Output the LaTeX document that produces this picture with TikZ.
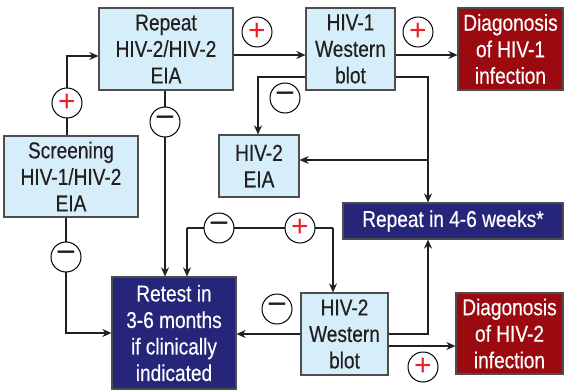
\documentclass[tikz,border=0pt]{standalone}
\usepackage{fontspec}
\setmainfont{Liberation Sans}[FakeStretch=0.83, FakeBold=0.4]
\newfontfamily\signfont{Liberation Sans}
\usetikzlibrary{positioning,arrows.meta,calc}
\definecolor{boxblue}{HTML}{D5EEF9}
\definecolor{boxnavy}{HTML}{25267A}
\definecolor{boxred}{HTML}{9A0A0F}
\definecolor{edgegray}{HTML}{4D4D4D}
\definecolor{signred}{HTML}{E8202A}
\definecolor{inkdark}{HTML}{231F20}

\begin{document}
\begin{tikzpicture}[x=1pt, y=-1pt,
  every node/.style={font=\fontsize{23}{26.5}\selectfont, align=center, inner sep=0pt},
  testbox/.style={draw=edgegray, line width=1.2pt, fill=boxblue, text=inkdark},
  waitbox/.style={draw=edgegray, line width=1.2pt, fill=boxnavy, text=white},
  diagbox/.style={draw=edgegray, line width=1.2pt, fill=boxred, text=white},
  sign/.style={circle, draw=black, line width=1pt, fill=white, minimum size=30pt,
               font=\signfont\fontsize{30}{30}\selectfont},
  possign/.style={sign, text=signred},
  negsign/.style={sign, text=inkdark, font=\signfont\fontsize{34}{34}\selectfont},
  arr/.style={-{Stealth[length=9pt, width=8pt]}, line width=1.3pt, draw=inkdark},
  lin/.style={line width=1.3pt, draw=inkdark},
]
\useasboundingbox (0,0) rectangle (564,390);

%% Boxes
\node[testbox, minimum width=134pt, minimum height=81pt] (scr)   at (71,176.5)  {Screening\\HIV-1/HIV-2\\EIA};
\node[testbox, minimum width=134pt, minimum height=82pt] (rep)   at (166,49)    {Repeat\\HIV-2/HIV-2\\EIA};
\node[testbox, minimum width=89pt,  minimum height=82pt] (wb1)   at (350.5,49)  {HIV-1\\Western\\blot};
\node[diagbox, minimum width=105pt, minimum height=82pt] (dx1)   at (510.5,49)  {Diagonosis\\of HIV-1\\infection};
\node[testbox, minimum width=80pt,  minimum height=62pt] (eia2)  at (259,166)   {HIV-2\\EIA};
\node[waitbox, minimum width=220pt, minimum height=36pt] (rep46) at (453,221)   {Repeat in 4-6 weeks*};
\node[waitbox, minimum width=124pt, minimum height=112pt] (ret)  at (174,333)   {Retest in\\3-6 months\\if clinically\\indicated};
\node[testbox, minimum width=87pt,  minimum height=82pt] (wb2)   at (344.5,334) {HIV-2\\Western\\blot};
\node[diagbox, minimum width=107pt, minimum height=81pt] (dx2)   at (509.5,333.5) {Diagonosis\\of HIV-2\\infection};

%% Junctions
\coordinate (jn) at (428,160);
\coordinate (sl) at (187,228);
\coordinate (sr) at (333,228);

%% Connectors
% screening
\draw[arr] ([xshift=-4pt]scr.north) |- ([yshift=-7pt]rep.west);
\draw[arr] ([xshift=-5pt]scr.south) |- (ret.west);
% repeat EIA
\draw[arr] ([yshift=-6pt]rep.east) -- ([yshift=-6pt]rep.east -| wb1.west);
\draw[arr] ([xshift=-1pt]rep.south) -- ([xshift=-1pt]rep.south |- ret.north);
% HIV-1 western blot
\draw[arr] ([yshift=-6pt]wb1.east) -- ([yshift=-6pt]wb1.east -| dx1.west);
\draw[arr] ([yshift=-28pt]wb1.west) -| ([xshift=-1pt]eia2.north);
\draw[lin] ([yshift=-28pt]wb1.east) -| (jn);
\draw[arr] (jn) -- (jn |- rep46.north);
\draw[arr] (jn) -- (jn -| eia2.east);
% repeat in 4-6 weeks result
\draw[arr] (sl) -- (sl |- ret.north);
\draw[lin] (sl) -- (sr);
\draw[arr] (sr) -- (sr |- wb2.north);
% HIV-2 western blot
\draw[arr] (wb2.west) -- (wb2.west -| ret.east);
\draw[arr] (wb2.east) -| (jn |- rep46.south);
\draw[arr] ([yshift=-12pt]wb2.east) -- ([yshift=-12pt]wb2.east -| dx2.west);

%% Result signs
\node[possign] (p1) at (67,103)  {+};
\node[possign] (p2) at (257,32)  {+};
\node[possign] (p3) at (418,32)  {+};
\node[possign] (p4) at (300,228) {+};
\node[possign] (p5) at (423,367) {+};
\node[negsign] (m1) at (165,122) {\char"2212};
\node[negsign] (m2) at (285,98)  {\char"2212};
\node[negsign] (m3) at (66,257)  {\char"2212};
\node[negsign] (m4) at (219,228) {\char"2212};
\node[negsign] (m5) at (277,309) {\char"2212};

\end{tikzpicture}
\end{document}
